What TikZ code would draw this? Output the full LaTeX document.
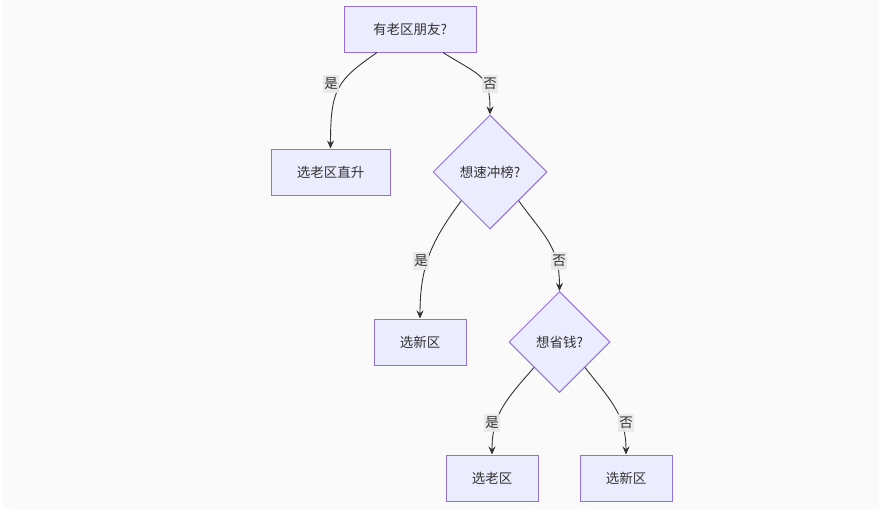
\documentclass[tikz,border=0pt]{standalone}
\usepackage{fontspec}
\setmainfont{Noto Sans CJK SC}
\usetikzlibrary{shapes.geometric,arrows.meta,calc}
\definecolor{nodefill}{HTML}{ECECFF}
\definecolor{nodeline}{HTML}{9370DB}
\definecolor{edgecol}{HTML}{333333}
\definecolor{lblbg}{HTML}{E8E8E8}
\definecolor{bgcol}{HTML}{FAFAFA}
\begin{document}
\begin{tikzpicture}[x=1pt,y=1pt,
  box/.style={draw=nodeline,fill=nodefill,line width=1pt,minimum height=46pt,inner sep=0pt,font=\fontsize{13.5}{15}\selectfont,text=edgecol},
  dia/.style={diamond,aspect=1,draw=nodeline,fill=nodefill,line width=1pt,inner sep=0pt,font=\fontsize{13.5}{15}\selectfont,text=edgecol},
  edge/.style={draw=edgecol,line width=0.9pt,-{Stealth[length=8pt,width=7pt]}},
  lbl/.style={fill=lblbg,fill opacity=0.9,text opacity=1,inner sep=1pt,minimum height=18pt,font=\fontsize{13.5}{15}\selectfont,text=edgecol}]
\useasboundingbox (0,0) rectangle (879,-517);
\fill[bgcol] (2,0) -- (2,-499) arc[start angle=180,end angle=270,radius=10] -- (879,-509) -- (879,0) -- cycle;
% nodes
\node[box,minimum width=132pt] (A) at (410,-29) {有老区朋友?};
\node[box,minimum width=119pt] (B) at (330.5,-172) {选老区直升};
\node[dia,minimum size=114pt] (C) at (490,-172) {想速冲榜?};
\node[box,minimum width=92pt] (D) at (420,-342) {选新区};
\node[dia,minimum size=101pt] (E) at (559.5,-342) {想省钱?};
\node[box,minimum width=92pt] (F) at (492,-478) {选老区};
\node[box,minimum width=92pt] (G) at (626,-478) {选新区};
% edges
\draw[edge] ([xshift=-33pt]A.south) .. controls +(-40,-28) and +(0,60) .. (B.north);
\draw[edge] ([xshift=33pt]A.south) .. controls +(38,-24) and +(0,40) .. (C.north);
\draw[edge] (C.south west) .. controls +(-28,-38) and +(0,55) .. (D.north);
\draw[edge] (C.south east) .. controls +(25,-35) and +(0,45) .. (E.north);
\draw[edge] (E.south west) .. controls +(-28,-32) and +(0,40) .. (F.north);
\draw[edge] (E.south east) .. controls +(25,-32) and +(0,40) .. (G.north);
% labels
\node[lbl] (l1) at (331,-84) {是};
\node[lbl] (l2) at (490,-84) {否};
\node[lbl] (l3) at (421,-261) {是};
\node[lbl] (l4) at (559,-261) {否};
\node[lbl] (l5) at (492,-423) {是};
\node[lbl] (l6) at (626,-423) {否};
\end{tikzpicture}
\end{document}
